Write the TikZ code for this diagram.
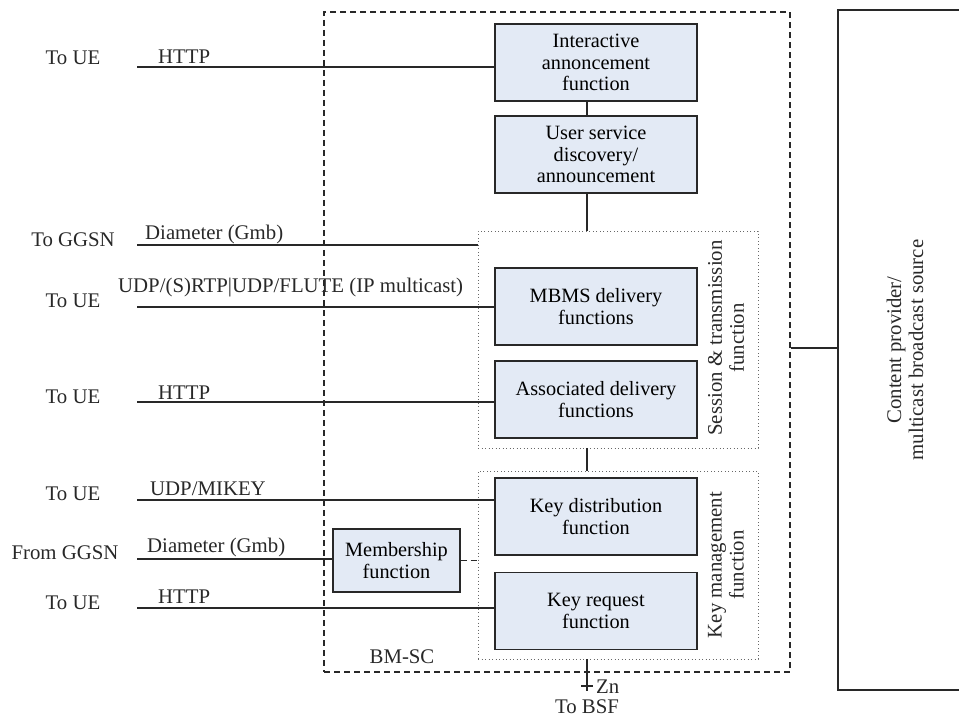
\documentclass[tikz,border=0pt]{standalone}
\usepackage{fontspec}
\setmainfont{Liberation Serif}
\definecolor{boxblue}{RGB}{227,234,245}
\definecolor{ink}{RGB}{40,40,40}
\begin{document}
\begin{tikzpicture}[x=1pt,y=-1pt,
  font=\fontsize{20.8}{22}\selectfont,
  fnbox/.style={draw=ink, fill=boxblue, line width=1.1pt, align=center, inner sep=0pt,
    minimum width=202pt, minimum height=77pt, font=\fontsize{20.3}{21.8}\selectfont},
  dotbox/.style={draw=ink!70, line width=0.9pt, dash pattern=on 0.9pt off 2.6pt, inner sep=0pt},
  dashbox/.style={draw=ink, line width=1.1pt, dash pattern=on 6pt off 4pt, inner sep=0pt},
  wire/.style={draw=ink, line width=1.1pt},
  lbl/.style={anchor=base, inner sep=0pt, text=ink},
  plbl/.style={anchor=base west, inner sep=0pt, text=ink},
  rot/.style={rotate=90, align=center, inner sep=0pt, text=ink}]
\useasboundingbox (0,0) rectangle (959,717);

% containers
\node[dashbox, minimum width=466pt, minimum height=660pt] (bmsc) at (557,342) {};
\node[dotbox, minimum width=280pt, minimum height=217pt] (stf) at (618,339.5) {};
\node[dotbox, minimum width=280pt, minimum height=188pt] (kmf) at (618,565) {};
\node[draw=ink, line width=1.1pt, minimum width=124pt, minimum height=680pt, inner sep=0pt] (cp) at (900,350) {};

% function boxes
\node[fnbox] (iaf) at (596,62.5) {Interactive\\annoncement\\function};
\node[fnbox] (usd) at (596,154.5) {User service\\discovery/\\announcement};
\node[fnbox] (mbms) at (596,306.5) {MBMS delivery\\functions};
\node[fnbox] (adf) at (596,399.5) {Associated delivery\\functions};
\node[fnbox] (kdf) at (596,516.5) {Key distribution\\function};
\node[fnbox] (krf) at (596,611) {Key request\\function};
\node[fnbox, minimum width=127pt, minimum height=63pt] (mem) at (396.5,560.5) {Membership\\function};

% labels of containers
\node[rot] (stflbl) at (726,338) {Session \& transmission\\function};
\node[rot] (kmflbl) at (726,565) {Key management\\function};
\node[rot] (cplbl) at (905,350) {Content provider/\\multicast broadcast source};
\node[lbl] (bmsclbl) at (402,663) {BM-SC};

% internal connectors
\coordinate (cx) at (587,0);
\draw[wire] (cx |- iaf.south) -- (cx |- usd.north);
\draw[wire] (cx |- usd.south) -- (cx |- stf.north);
\draw[wire] (cx |- stf.south) -- (cx |- kmf.north);
\coordinate (znend) at (587,691);
\draw[wire] (cx |- kmf.south) -- (znend);
\coordinate (tickl) at (581,686);
\coordinate (tickr) at (593,686);
\draw[wire] (tickl) -- (tickr);
\node[anchor=west, inner sep=0pt, text=ink] (zn) at (596,687) {Zn};
\node[lbl] (bsf) at (587,713) {To BSF};
\draw[wire, dash pattern=on 6pt off 4pt] (mem.east) -- (mem.east -| kmf.west);
\coordinate (cpy) at (0,348);
\draw[wire] (bmsc.east |- cpy) -- (cp.west |- cpy);

% external interfaces
\coordinate (a1) at (137,67);
\coordinate (a2) at (137,245);
\coordinate (a3) at (137,307);
\coordinate (a4) at (137,402);
\coordinate (a5) at (137,500);
\coordinate (a6) at (137,559);
\coordinate (a7) at (137,608);
\draw[wire] (a1) -- (a1 -| iaf.west);
\draw[wire] (a2) -- (a2 -| stf.west);
\draw[wire] (a3) -- (a3 -| mbms.west);
\draw[wire] (a4) -- (a4 -| adf.west);
\draw[wire] (a5) -- (a5 -| kdf.west);
\draw[wire] (a6) -- (a6 -| mem.west);
\draw[wire] (a7) -- (a7 -| krf.west);

\node[lbl] (e1) at (73,65) {To UE};
\node[lbl] (e2) at (73,246) {To GGSN};
\node[lbl] (e3) at (73,307) {To UE};
\node[lbl] (e4) at (73,403) {To UE};
\node[lbl] (e5) at (73,500) {To UE};
\node[lbl] (e6) at (65,559) {From GGSN};
\node[lbl] (e7) at (73,609) {To UE};

\node[plbl] (p1) at (158,64) {HTTP};
\node[plbl] (p2) at (145,239) {Diameter (Gmb)};
\node[plbl] (p3) at (118,292) {UDP/(S)RTP|UDP/FLUTE (IP multicast)};
\node[plbl] (p4) at (158,399) {HTTP};
\node[plbl] (p5) at (150,495) {UDP/MIKEY};
\node[plbl] (p6) at (147,552) {Diameter (Gmb)};
\node[plbl] (p7) at (158,603) {HTTP};
\end{tikzpicture}
\end{document}
